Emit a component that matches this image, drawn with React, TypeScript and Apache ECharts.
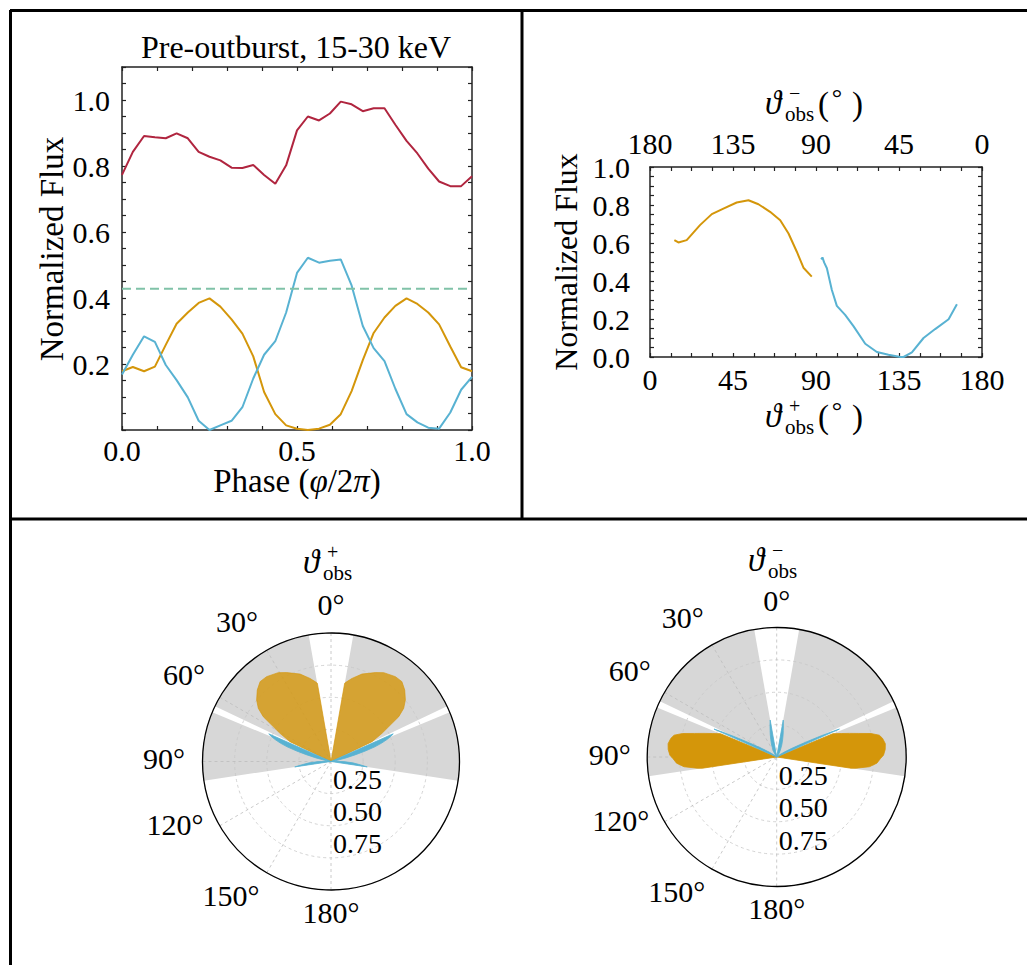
import React, { useEffect, useRef } from 'react';
import * as echarts from 'echarts';

// ---------- Data: top-left (phase-resolved, pre-outburst 15-30 keV) ----------
const phase = [0, 0.031, 0.063, 0.094, 0.125, 0.156, 0.188, 0.219, 0.25, 0.281, 0.313, 0.344, 0.375, 0.406, 0.438, 0.469, 0.5,
  0.531, 0.563, 0.594, 0.625, 0.656, 0.688, 0.719, 0.75, 0.781, 0.813, 0.844, 0.875, 0.906, 0.938, 0.969, 1.0];
const fluxTotal = [0.773, 0.843, 0.891, 0.887, 0.884, 0.899, 0.884, 0.843, 0.828, 0.817, 0.795, 0.794, 0.803, 0.773, 0.746, 0.802, 0.908,
  0.950, 0.938, 0.959, 0.995, 0.987, 0.966, 0.975, 0.975, 0.925, 0.876, 0.838, 0.792, 0.753, 0.739, 0.739, 0.769];
const fluxPole1 = [0.178, 0.191, 0.178, 0.192, 0.258, 0.322, 0.356, 0.385, 0.399, 0.374, 0.335, 0.292, 0.223, 0.115, 0.048, 0.014, 0.004,
  0.0, 0.004, 0.016, 0.048, 0.118, 0.212, 0.294, 0.341, 0.376, 0.399, 0.382, 0.356, 0.320, 0.253, 0.190, 0.178];
const fluxPole2 = [0.168, 0.228, 0.284, 0.267, 0.197, 0.151, 0.099, 0.028, 0.0, 0.014, 0.028, 0.069, 0.156, 0.228, 0.269, 0.356, 0.476,
  0.522, 0.507, 0.513, 0.517, 0.438, 0.315, 0.248, 0.209, 0.125, 0.048, 0.023, 0.007, 0.004, 0.053, 0.122, 0.161];
const fluxLevel = 0.428;

// ---------- Data: top-right (flux vs observer angle) ----------
const thetaPole1 = [13.2, 15.4, 19.9, 27.1, 33.5, 39.8, 47.0, 53.4, 58.8, 65.1, 70.6, 75.1, 79.6, 83.2, 87.7];
const fluxThetaPole1 = [0.615, 0.603, 0.615, 0.694, 0.752, 0.781, 0.813, 0.825, 0.804, 0.764, 0.720, 0.650, 0.554, 0.470, 0.423];
const thetaPole2 = [92.8, 93.5, 94.4, 95.9, 98.6, 101.3, 105.8, 110.4, 116.7, 123.0, 129.3, 135.7, 137.5, 142.0, 148.3, 154.6, 161.9, 166.4];
const fluxThetaPole2 = [0.514, 0.524, 0.498, 0.467, 0.353, 0.269, 0.222, 0.161, 0.070, 0.026, 0.012, 0.0, 0.0, 0.024, 0.100, 0.147, 0.199, 0.278];

// ---------- Data: polar plots (angle from the pole in degrees, normalized radius) ----------
const shadedRanges = [[10, 64.5], [67.5, 98.6]];
const polarAngleLabels = [0, 30, 60, 90, 120, 150, 180];

const leftOrangeAngle = [9.9, 11.3, 14.2, 19.5, 26.5, 30.7, 37.2, 41.6, 45.9, 50.4, 53.8, 56.5, 58.0, 61.1, 64.2];
const leftOrangeR = [0.618, 0.634, 0.667, 0.722, 0.773, 0.804, 0.829, 0.831, 0.799, 0.751, 0.701, 0.632, 0.56, 0.453, 0.354];
const leftBlueAngle = [66, 67, 68.5, 70, 71.5, 73, 74.5, 76.5, 79.5, 83, 86, 88, 90.5, 93.5, 96.5, 98.5];
const leftBlueR = [0.53, 0.51, 0.47, 0.42, 0.36, 0.28, 0.2, 0.12, 0.05, 0.015, 0.0, 0.03, 0.1, 0.17, 0.23, 0.285];

const rightOrangeAngle = [67.5, 70, 72, 74, 76, 78, 80, 83, 86, 89, 91, 93.5, 96, 98, 98.6];
const rightOrangeR = [0.47, 0.53, 0.59, 0.66, 0.75, 0.81, 0.83, 0.845, 0.84, 0.825, 0.80, 0.775, 0.72, 0.62, 0.58];
const rightBlueAngle = [10, 12, 14, 16, 19, 23, 28, 33, 40, 48, 53, 57, 60, 62, 63.5, 64.5, 65.3, 66];
const rightBlueR = [0.29, 0.25, 0.21, 0.18, 0.14, 0.1, 0.06, 0.03, 0.0, 0.0, 0.03, 0.07, 0.13, 0.2, 0.29, 0.38, 0.46, 0.53];

const RED = '#b0253f';
const ORANGE = '#d4960a';
const BLUE = '#58b2d2';
const TEAL = '#80c2a8';
const GRAY = '#d7d7d7';
const AX = '#222';
const FONT = "'Liberation Serif', 'DejaVu Serif', serif";

// layout of the polar panels and their angle-label placement (pixel offsets from the pole centre)
const POLAR_CENTERS = [[331, 761.5], [776.7, 757]];
const POLAR_RADII = [128.5, 129.5];
const ANGLE_LABEL_OFFSETS = [[0, -157], [-94, -140], [-147, -87], [-167, -3], [-156, 63], [-100, 134], [0, 151]];

const isMult = (v: number, step: number) => {
  const q = v / step;
  return Math.abs(q - Math.round(q)) < 1e-6;
};

const tickLabel = { color: '#000', fontFamily: FONT, fontSize: 30 };

function cartAxis(extra: any) {
  return {
    type: 'value',
    axisLine: { onZero: false, lineStyle: { color: AX, width: 1.5 } },
    axisTick: { inside: true, length: 4, lineStyle: { color: AX, width: 1.2 } },
    splitLine: { show: false },
    ...extra,
  };
}

// angle value for the polar axis: left side (counter-clockwise from top) and mirrored right side
const angVal = (t: number, side: number) => (side < 0 ? 180 - t : 180 + t);

function lobeSeries(polarIndex: number, ang: number[], rad: number[], color: string, opacity: number, z: number) {
  return {
    type: 'custom',
    coordinateSystem: 'polar',
    polarIndex,
    z,
    silent: true,
    clip: false,
    data: ang.map((a, i) => [rad[i], 180 - a]),
    renderItem: (params: any, api: any) => {
      if (params.dataIndex !== 0) return null;
      return {
        type: 'group',
        children: [-1, 1].map((side) => ({
          type: 'polygon',
          shape: {
            points: [api.coord([0, 0]), ...ang.map((a, i) => api.coord([rad[i], angVal(a, side)]))],
          },
          style: { fill: color, opacity, stroke: color, lineWidth: 0.8 },
        })),
      };
    },
  };
}

function shadeSeries(polarIndex: number) {
  return {
    type: 'custom',
    coordinateSystem: 'polar',
    polarIndex,
    z: 1,
    silent: true,
    clip: false,
    data: shadedRanges.map((r) => [1, 180 - r[0]]),
    renderItem: (params: any, api: any) => {
      if (params.dataIndex !== 0) return null;
      const children: any[] = [];
      shadedRanges.forEach(([a1, a2]) => {
        [-1, 1].forEach((side) => {
          const pts = [api.coord([0, 0])];
          const n = Math.ceil((a2 - a1) / 0.5);
          for (let k = 0; k <= n; k++) {
            const a = a1 + ((a2 - a1) * k) / n;
            pts.push(api.coord([1, angVal(a, side)]));
          }
          children.push({ type: 'polygon', shape: { points: pts }, style: { fill: GRAY } });
        });
      });
      return { type: 'group', children };
    },
  };
}

function angleAxis(polarIndex: number) {
  const colors: string[] = [];
  for (let i = 0; i < 12; i++) colors.push(i <= 6 ? '#bdbdbd' : 'rgba(0,0,0,0)');
  return {
    polarIndex,
    type: 'value',
    min: 0,
    max: 360,
    interval: 30,
    startAngle: -90,
    clockwise: true,
    z: 4,
    axisLine: { lineStyle: { color: '#000', width: 1.3 } },
    axisTick: { show: false },
    axisLabel: { show: false },
    splitLine: { show: true, lineStyle: { color: colors, type: [3, 3], width: 0.8 } },
  };
}

function radiusAxis(polarIndex: number) {
  return {
    polarIndex,
    type: 'value',
    min: 0,
    max: 1,
    interval: 0.25,
    z: 3,
    axisLine: { show: false },
    axisTick: { show: false },
    axisLabel: {
      ...tickLabel,
      fontSize: 28,
      align: 'left',
      verticalAlign: 'bottom',
      margin: 2,
      formatter: (v: number) => (v > 0.01 && v < 0.99 ? v.toFixed(2) : ''),
    },
    splitLine: { show: true, lineStyle: { color: '#c8c8c8', type: [3, 3], width: 0.8 } },
  };
}

function angleLabels(p: number) {
  const [cx, cy] = POLAR_CENTERS[p];
  return polarAngleLabels.map((t, i) => ({
    type: 'text',
    x: cx + ANGLE_LABEL_OFFSETS[i][0],
    y: cy + ANGLE_LABEL_OFFSETS[i][1],
    style: { text: t + '°', fontFamily: FONT, fontSize: 30, fill: '#000', align: 'center', verticalAlign: 'middle' },
  }));
}

function thetaObs(x: number, y: number, sign: string, deg: boolean) {
  const els: any[] = [
    { type: 'text', x, y, style: { text: 'ϑ', fontFamily: FONT, fontStyle: 'italic', fontSize: 33, fill: '#000', align: 'left', verticalAlign: 'middle' } },
    { type: 'text', x: x + 24, y: y - 10, style: { text: sign, fontFamily: FONT, fontSize: 20, fill: '#000', align: 'left', verticalAlign: 'middle' } },
    { type: 'text', x: x + 20, y: y + 11, style: { text: 'obs', fontFamily: FONT, fontSize: 21, fill: '#000', align: 'left', verticalAlign: 'middle' } },
  ];
  if (deg) {
    els.push(
      { type: 'text', x: x + 53, y: y + 1, style: { text: '(', fontFamily: FONT, fontSize: 33, fill: '#000', align: 'left', verticalAlign: 'middle' } },
      { type: 'text', x: x + 72, y: y - 6, style: { text: '°', fontFamily: FONT, fontSize: 26, fill: '#000', align: 'center', verticalAlign: 'middle' } },
      { type: 'text', x: x + 87, y: y + 1, style: { text: ')', fontFamily: FONT, fontSize: 33, fill: '#000', align: 'left', verticalAlign: 'middle' } },
    );
  }
  return els;
}

function lineSeries(xs: number[], ys: number[], color: string, xi: number, yi: number, extra: any = {}) {
  return {
    type: 'line',
    xAxisIndex: xi,
    yAxisIndex: yi,
    data: xs.map((x, i) => [x, ys[i]]),
    showSymbol: false,
    symbol: 'none',
    silent: true,
    lineStyle: { color, width: 2, ...extra },
    z: 3,
  };
}

export default function App() {
  const ref = useRef<HTMLDivElement>(null);
  useEffect(() => {
    if (!ref.current) return;
    const chart = echarts.init(ref.current, undefined, { renderer: 'svg' });
    const borderStyle = { stroke: '#000', lineWidth: 3 };
    const option: any = {
      animation: false,
      backgroundColor: '#fff',
      grid: [
        { left: 122, top: 67, width: 350, height: 363 },
        { left: 650, top: 167, width: 332, height: 190 },
      ],
      xAxis: [
        cartAxis({ gridIndex: 0, position: 'bottom', min: 0, max: 1, interval: 0.1,
          axisLabel: { ...tickLabel, margin: 5, formatter: (v: number) => (isMult(v, 0.5) ? v.toFixed(1) : '') } }),
        cartAxis({ gridIndex: 0, position: 'top', min: 0, max: 1, interval: 0.1, axisLabel: { show: false } }),
        cartAxis({ gridIndex: 1, position: 'bottom', min: 0, max: 180, interval: 11.25,
          axisLabel: { ...tickLabel, margin: 7, formatter: (v: number) => (isMult(v, 45) ? String(Math.round(v)) : '') } }),
        cartAxis({ gridIndex: 1, position: 'top', inverse: true, min: 0, max: 180, interval: 11.25,
          axisLabel: { ...tickLabel, margin: 9, formatter: (v: number) => (isMult(v, 45) ? String(Math.round(v)) : '') } }),
      ],
      yAxis: [
        cartAxis({ gridIndex: 0, position: 'left', min: 0, max: 1.1, interval: 0.05,
          axisLabel: { ...tickLabel, margin: 12, formatter: (v: number) => (v > 0.01 && isMult(v, 0.2) ? v.toFixed(1) : '') } }),
        cartAxis({ gridIndex: 0, position: 'right', min: 0, max: 1.1, interval: 0.05, axisLabel: { show: false } }),
        cartAxis({ gridIndex: 1, position: 'left', min: 0, max: 1, interval: 0.05,
          axisLabel: { ...tickLabel, margin: 20, formatter: (v: number) => (isMult(v, 0.2) ? v.toFixed(1) : '') } }),
        cartAxis({ gridIndex: 1, position: 'right', min: 0, max: 1, interval: 0.05, axisLabel: { show: false } }),
      ],
      polar: POLAR_CENTERS.map((c, i) => ({ center: c, radius: POLAR_RADII[i] })),
      angleAxis: [angleAxis(0), angleAxis(1)],
      radiusAxis: [radiusAxis(0), radiusAxis(1)],
      series: [
        lineSeries(phase, fluxTotal, RED, 0, 0),
        lineSeries(phase, fluxPole1, ORANGE, 0, 0),
        lineSeries(phase, fluxPole2, BLUE, 0, 0),
        lineSeries([0, 1], [fluxLevel, fluxLevel], TEAL, 0, 0, { type: [9, 5], width: 2 }),
        lineSeries(thetaPole1, fluxThetaPole1, ORANGE, 2, 2),
        lineSeries(thetaPole2, fluxThetaPole2, BLUE, 2, 2),
        shadeSeries(0),
        shadeSeries(1),
        lobeSeries(0, leftOrangeAngle, leftOrangeR, ORANGE, 0.8, 5),
        lobeSeries(0, leftBlueAngle, leftBlueR, BLUE, 1, 6),
        lobeSeries(1, rightOrangeAngle, rightOrangeR, ORANGE, 1, 5),
        lobeSeries(1, rightBlueAngle, rightBlueR, BLUE, 1, 6),
      ],
      graphic: [
        { type: 'line', shape: { x1: 10, y1: 10.5, x2: 1027, y2: 10.5 }, style: borderStyle },
        { type: 'line', shape: { x1: 10.5, y1: 10, x2: 10.5, y2: 965 }, style: borderStyle },
        { type: 'line', shape: { x1: 522, y1: 10, x2: 522, y2: 519 }, style: borderStyle },
        { type: 'line', shape: { x1: 10, y1: 519, x2: 1027, y2: 519 }, style: borderStyle },
        { type: 'text', x: 296, y: 47, style: { text: 'Pre-outburst, 15-30 keV', fontFamily: FONT, fontSize: 32, fill: '#000', align: 'center', verticalAlign: 'middle' } },
        { type: 'text', x: 52, y: 249, rotation: Math.PI / 2, style: { text: 'Normalized Flux', fontFamily: FONT, fontSize: 33, fill: '#000', align: 'center', verticalAlign: 'middle' } },
        { type: 'text', x: 566, y: 262, rotation: Math.PI / 2, style: { text: 'Normalized Flux', fontFamily: FONT, fontSize: 32, fill: '#000', align: 'center', verticalAlign: 'middle' } },
        { type: 'text', x: 297, y: 481, style: {
          text: 'Phase ({i|φ}/2{i|π})', fontFamily: FONT, fontSize: 33, fill: '#000', align: 'center', verticalAlign: 'middle',
          rich: { i: { fontFamily: FONT, fontStyle: 'italic', fontSize: 33, fill: '#000' } } } },
        ...thetaObs(765, 103, '−', true),
        ...thetaObs(765, 416, '+', true),
        ...thetaObs(303, 562, '+', false),
        ...thetaObs(748, 560, '−', false),
        ...angleLabels(0),
        ...angleLabels(1),
      ],
    };
    chart.setOption(option);
    return () => chart.dispose();
  }, []);
  return <div ref={ref} style={{ position: 'absolute', left: 0, top: 0, width: 1027, height: 965, background: '#fff' }} />;
}
